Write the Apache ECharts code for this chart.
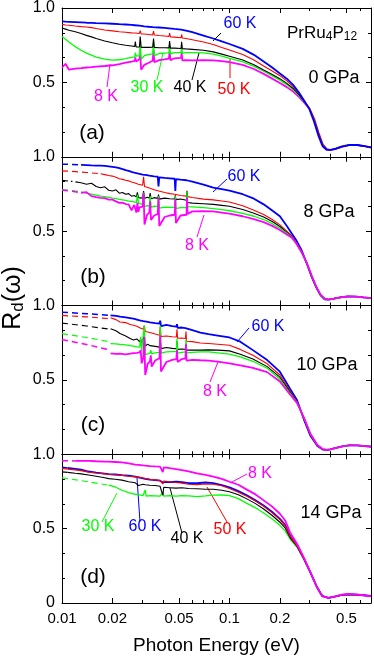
<!DOCTYPE html>
<html><head><meta charset="utf-8">
<script src="https://cdn.jsdelivr.net/npm/echarts@6/dist/echarts.min.js"></script>
<style>html,body{margin:0;padding:0;background:#fff}#c{width:374px;height:657px}</style>
</head><body><div id="c"></div>
<script>
// ---------- Panel (a) 0 GPa ----------
const E_a = [0.010,0.0105,0.011,0.012,0.013,0.014,0.015,0.016,0.018,0.020,0.022,0.024,0.026,0.0272,0.0274,0.0277,0.029,0.0293,0.0297,0.031,0.033,0.0348,0.0352,0.0356,0.038,0.041,0.0435,0.0439,0.0444,0.047,0.0514,0.0518,0.0523,0.055,0.06,0.07,0.08,0.09,0.10,0.12,0.14,0.16,0.18,0.20,0.22,0.24,0.26,0.28,0.30,0.32,0.34,0.36,0.38,0.40,0.43,0.47,0.52,0.58,0.64,0.70];
const a60 = [0.910,0.908,0.907,0.905,0.903,0.901,0.900,0.898,0.896,0.894,0.891,0.889,0.886,0.884,0.884,0.883,0.881,0.884,0.879,0.877,0.874,0.872,0.885,0.872,0.869,0.866,0.863,0.874,0.862,0.859,0.855,0.860,0.853,0.848,0.838,0.815,0.795,0.775,0.758,0.725,0.685,0.640,0.600,0.560,0.525,0.483,0.432,0.375,0.320,0.235,0.140,0.070,0.047,0.046,0.055,0.070,0.080,0.079,0.072,0.063];
const a50 = [0.890,0.886,0.884,0.879,0.875,0.872,0.868,0.862,0.852,0.846,0.840,0.837,0.833,0.832,0.842,0.830,0.829,0.848,0.826,0.825,0.822,0.819,0.845,0.818,0.815,0.812,0.808,0.832,0.806,0.804,0.800,0.822,0.798,0.795,0.787,0.772,0.755,0.735,0.718,0.688,0.650,0.610,0.577,0.545,0.510,0.472,0.427,0.375,0.327,0.250,0.155,0.080,0.050,0.045,0.053,0.068,0.079,0.078,0.071,0.062];
const a40 = [0.865,0.858,0.850,0.840,0.828,0.816,0.806,0.795,0.778,0.766,0.756,0.750,0.745,0.742,0.775,0.738,0.738,0.808,0.735,0.736,0.735,0.736,0.795,0.735,0.733,0.733,0.732,0.778,0.730,0.730,0.728,0.772,0.727,0.725,0.722,0.716,0.705,0.690,0.676,0.650,0.618,0.583,0.553,0.525,0.493,0.459,0.418,0.370,0.325,0.252,0.158,0.082,0.051,0.045,0.052,0.067,0.078,0.078,0.071,0.062];
const a30 = [0.808,0.790,0.772,0.740,0.716,0.697,0.683,0.670,0.656,0.650,0.652,0.660,0.668,0.672,0.700,0.676,0.680,0.760,0.655,0.680,0.688,0.692,0.765,0.680,0.694,0.697,0.698,0.750,0.690,0.700,0.700,0.745,0.695,0.700,0.700,0.698,0.690,0.676,0.662,0.638,0.608,0.575,0.544,0.515,0.485,0.452,0.413,0.368,0.326,0.255,0.160,0.083,0.052,0.045,0.052,0.067,0.078,0.078,0.071,0.062];
const a8  = [0.600,0.625,0.585,0.592,0.596,0.600,0.603,0.606,0.610,0.615,0.622,0.632,0.640,0.645,0.668,0.640,0.655,0.695,0.585,0.618,0.632,0.645,0.715,0.635,0.650,0.655,0.660,0.705,0.650,0.662,0.665,0.698,0.648,0.650,0.648,0.650,0.648,0.643,0.636,0.618,0.590,0.557,0.525,0.496,0.468,0.438,0.402,0.362,0.325,0.258,0.165,0.086,0.053,0.045,0.052,0.067,0.078,0.078,0.071,0.062];

// ---------- Panel (b) 8 GPa ----------
const E_b = [0.013,0.014,0.015,0.016,0.017,0.018,0.019,0.020,0.021,0.022,0.023,0.024,0.025,0.026,0.027,0.0278,0.0282,0.0286,0.029,0.0303,0.0307,0.0311,0.0322,0.0332,0.0336,0.034,0.0355,0.0373,0.0377,0.0381,0.041,0.044,0.0471,0.0475,0.0479,0.051,0.0554,0.0558,0.0562,0.06,0.07,0.08,0.09,0.10,0.12,0.14,0.16,0.18,0.20,0.22,0.235,0.25,0.27,0.29,0.31,0.33,0.35,0.37,0.39,0.42,0.46,0.51,0.57,0.63,0.70];
const b60 = [0.945,0.944,0.942,0.941,0.940,0.938,0.935,0.932,0.928,0.923,0.917,0.910,0.905,0.898,0.893,0.890,0.888,0.886,0.884,0.880,0.872,0.878,0.876,0.873,0.872,0.872,0.868,0.866,0.800,0.862,0.858,0.855,0.852,0.770,0.850,0.846,0.842,0.838,0.840,0.832,0.812,0.793,0.782,0.772,0.748,0.718,0.680,0.638,0.600,0.535,0.485,0.440,0.370,0.280,0.190,0.120,0.068,0.042,0.039,0.046,0.055,0.061,0.060,0.055,0.050];
const b50 = [null,null,null,null,0.886,0.880,0.874,0.870,0.862,0.852,0.848,0.842,0.838,0.830,0.825,0.820,0.825,0.815,0.812,0.808,0.865,0.800,0.795,0.790,0.800,0.785,0.778,0.772,0.785,0.768,0.760,0.752,0.748,0.760,0.745,0.740,0.735,0.760,0.732,0.726,0.715,0.710,0.703,0.696,0.670,0.640,0.612,0.578,0.542,0.500,0.470,0.425,0.362,0.282,0.195,0.122,0.070,0.044,0.040,0.046,0.055,0.061,0.060,0.055,0.050];
const b40 = [0.825,0.815,0.822,0.800,0.792,0.798,0.775,0.770,0.778,0.755,0.760,0.748,0.752,0.735,0.740,0.730,0.760,0.725,0.728,0.722,0.770,0.720,0.728,0.722,0.755,0.718,0.725,0.720,0.745,0.715,0.722,0.718,0.716,0.740,0.712,0.716,0.708,0.772,0.692,0.688,0.684,0.680,0.673,0.667,0.645,0.620,0.595,0.565,0.531,0.492,0.465,0.422,0.360,0.283,0.197,0.124,0.071,0.045,0.040,0.046,0.055,0.061,0.060,0.055,0.050];
const b30 = [0.764,0.755,0.748,0.742,0.736,0.732,0.727,0.722,0.718,0.713,0.710,0.706,0.702,0.700,0.696,0.692,0.745,0.688,0.685,0.680,0.760,0.665,0.672,0.668,0.735,0.660,0.668,0.665,0.735,0.655,0.662,0.660,0.660,0.735,0.652,0.658,0.658,0.765,0.665,0.663,0.658,0.651,0.644,0.637,0.620,0.600,0.578,0.550,0.519,0.485,0.462,0.420,0.358,0.284,0.198,0.125,0.072,0.045,0.040,0.046,0.055,0.061,0.060,0.055,0.050];
const b8  = [0.757,0.762,0.735,0.728,0.723,0.722,0.712,0.712,0.700,0.690,0.692,0.682,0.680,0.640,0.676,0.625,0.690,0.630,0.660,0.665,0.755,0.545,0.610,0.625,0.700,0.575,0.605,0.615,0.725,0.535,0.595,0.605,0.610,0.715,0.555,0.605,0.610,0.725,0.615,0.633,0.635,0.633,0.625,0.617,0.600,0.580,0.560,0.535,0.508,0.478,0.458,0.418,0.356,0.285,0.200,0.127,0.073,0.046,0.040,0.046,0.055,0.061,0.060,0.055,0.050];
const Eb_dash = [0.010,0.0115,0.013];
const Eb_dash50 = [0.010,0.012,0.014,0.017];
const b60d = [0.950,0.948,0.945];
const b50d = [0.905,0.900,0.894,0.886];
const b40d = [0.841,0.834,0.825];
const b30d = [0.780,0.772,0.764];
const b8d  = [0.776,0.768,0.757];

// ---------- Panel (c) 10 GPa ----------
const E_c = [0.0195,0.021,0.0222,0.024,0.0255,0.0267,0.028,0.0291,0.0295,0.0299,0.0306,0.031,0.0314,0.0325,0.0335,0.0339,0.0343,0.036,0.0382,0.0386,0.039,0.042,0.0455,0.0482,0.0486,0.049,0.052,0.0546,0.055,0.0554,0.06,0.067,0.075,0.085,0.10,0.116,0.138,0.168,0.20,0.23,0.253,0.278,0.305,0.335,0.36,0.38,0.40,0.44,0.48,0.52,0.58,0.64,0.70];
const c60 = [0.933,0.930,0.925,0.920,0.915,0.911,0.905,0.900,0.898,0.897,0.895,0.893,0.892,0.890,0.887,0.885,0.884,0.882,0.879,0.898,0.862,0.870,0.862,0.858,0.875,0.850,0.852,0.848,0.850,0.844,0.835,0.818,0.808,0.798,0.785,0.757,0.700,0.633,0.555,0.440,0.365,0.235,0.122,0.055,0.032,0.029,0.033,0.045,0.055,0.060,0.059,0.055,0.051];
const c50 = [0.918,0.905,0.889,0.885,0.872,0.867,0.860,0.850,0.845,0.845,0.840,0.865,0.825,0.822,0.818,0.812,0.815,0.808,0.800,0.858,0.792,0.795,0.790,0.788,0.840,0.780,0.782,0.778,0.825,0.760,0.757,0.748,0.745,0.740,0.733,0.705,0.665,0.608,0.533,0.425,0.355,0.240,0.128,0.058,0.033,0.029,0.033,0.045,0.055,0.060,0.059,0.055,0.051];
const c40 = [0.844,0.830,0.812,0.795,0.778,0.768,0.775,0.755,0.775,0.745,0.750,0.795,0.728,0.740,0.730,0.735,0.728,0.725,0.720,0.775,0.710,0.718,0.712,0.710,0.760,0.705,0.708,0.705,0.745,0.700,0.700,0.700,0.702,0.700,0.695,0.672,0.640,0.589,0.518,0.418,0.352,0.243,0.132,0.060,0.034,0.029,0.033,0.045,0.055,0.060,0.059,0.055,0.051];
const c30 = [0.744,0.742,0.738,0.735,0.730,0.727,0.722,0.720,0.790,0.700,0.705,0.865,0.670,0.675,0.680,0.700,0.675,0.682,0.685,0.865,0.680,0.688,0.690,0.690,0.778,0.680,0.685,0.688,0.770,0.682,0.685,0.688,0.688,0.682,0.673,0.655,0.625,0.578,0.504,0.410,0.348,0.245,0.134,0.061,0.034,0.029,0.033,0.045,0.055,0.060,0.059,0.055,0.051];
const c8  = [0.678,0.675,0.676,0.672,0.676,0.680,0.682,0.685,0.700,0.611,0.650,0.790,0.533,0.610,0.625,0.665,0.589,0.630,0.645,0.800,0.556,0.620,0.635,0.640,0.700,0.620,0.640,0.645,0.740,0.630,0.635,0.632,0.630,0.622,0.611,0.598,0.580,0.552,0.489,0.402,0.345,0.248,0.136,0.062,0.035,0.029,0.033,0.045,0.055,0.060,0.059,0.055,0.051];
const Ec_dash = [0.010,0.014,0.0195];
const c60d = [0.955,0.945,0.933];
const c50d = [0.933,0.924,0.911];
const c40d = [0.882,0.862,0.840];
const c30d = [0.811,0.785,0.755];
const c8d  = [0.771,0.738,0.700];

// ---------- Panel (d) 14 GPa ----------
const E_d = [0.0108,0.012,0.013,0.0144,0.016,0.018,0.019,0.0208,0.0228,0.025,0.0274,0.0286,0.029,0.0305,0.0314,0.0318,0.0335,0.036,0.0385,0.0395,0.040,0.0405,0.0414,0.044,0.048,0.052,0.057,0.064,0.072,0.08,0.09,0.10,0.113,0.127,0.143,0.16,0.18,0.20,0.215,0.23,0.254,0.278,0.305,0.334,0.358,0.39,0.43,0.47,0.51,0.57,0.63,0.70];
const d8  = [null,0.955,0.955,0.956,0.953,0.950,0.951,0.948,0.945,0.938,0.930,0.928,0.927,0.925,0.924,0.922,0.920,0.918,0.917,0.915,0.880,0.912,0.910,0.906,0.900,0.893,0.885,0.872,0.862,0.850,0.835,0.815,0.795,0.762,0.730,0.690,0.648,0.600,0.555,0.475,0.395,0.305,0.204,0.102,0.045,0.034,0.045,0.056,0.061,0.058,0.052,0.045];
const d60 = [0.908,0.902,0.896,0.884,0.876,0.870,0.866,0.864,0.860,0.856,0.849,0.845,0.842,0.838,0.835,0.833,0.830,0.826,0.822,0.818,0.810,0.816,0.814,0.812,0.815,0.812,0.806,0.805,0.810,0.806,0.792,0.778,0.752,0.724,0.690,0.656,0.612,0.566,0.525,0.452,0.385,0.300,0.202,0.104,0.047,0.034,0.044,0.054,0.058,0.056,0.052,0.047];
const d50 = [0.900,0.895,0.890,0.880,0.874,0.868,0.864,0.862,0.858,0.852,0.848,0.846,0.845,0.840,0.836,0.835,0.832,0.828,0.824,0.822,0.800,0.820,0.818,0.815,0.810,0.806,0.798,0.796,0.800,0.798,0.788,0.770,0.745,0.717,0.685,0.650,0.606,0.561,0.520,0.450,0.382,0.298,0.202,0.104,0.047,0.034,0.044,0.054,0.058,0.056,0.052,0.047];
const d40 = [0.878,0.872,0.868,0.860,0.852,0.842,0.836,0.832,0.826,0.815,0.808,0.790,0.803,0.798,0.795,0.793,0.792,0.790,0.785,0.782,0.724,0.778,0.772,0.775,0.772,0.775,0.770,0.768,0.765,0.765,0.758,0.748,0.728,0.700,0.668,0.632,0.588,0.543,0.505,0.440,0.378,0.296,0.203,0.105,0.048,0.034,0.044,0.054,0.058,0.056,0.052,0.047];
const d30 = [null,null,null,null,null,null,0.792,0.780,0.758,0.742,0.731,0.728,0.725,0.722,0.760,0.718,0.722,0.720,0.718,0.722,0.745,0.718,0.720,0.722,0.718,0.722,0.720,0.715,0.720,0.725,0.726,0.722,0.702,0.670,0.640,0.605,0.565,0.522,0.485,0.430,0.372,0.294,0.203,0.106,0.049,0.034,0.044,0.054,0.058,0.056,0.052,0.047];
const Ed_dash8 = [0.010,0.012];
const Ed_dashS = [0.010,0.0108];
const Ed_dash30 = [0.010,0.014,0.019];
const d8d  = [0.957,0.955];
const d60d = [0.912,0.908];
const d50d = [0.905,0.900];
const d40d = [0.882,0.878];
const d30d = [0.842,0.817,0.792];

// ---------- axis ticks ----------
const xMajorTicks = [0.01,0.02,0.05,0.1,0.2,0.5];
const xMinorTicks = [0.03,0.04,0.06,0.07,0.08,0.09,0.3,0.4,0.6];
const xLabels = [0.01,0.02,0.05,0.1,0.2,0.5];

const COL = {'8':'#ff00ff','30':'#00ff00','40':'#000000','50':'#ff0000','60':'#0000ff'};
const LW  = {'8':1.8,'30':1.3,'40':1.1,'50':1.1,'60':1.8};
const FONT = '"Liberation Sans", Arial, sans-serif';

const panels = [
  {E:E_a, s:{'8':a8,'30':a30,'40':a40,'50':a50,'60':a60}, dash:[], order:['8','30','40','50','60']},
  {E:E_b, s:{'8':b8,'30':b30,'40':b40,'50':b50,'60':b60},
   dash:[[Eb_dash,b60d,'60','d'],[Eb_dash50,b50d,'50','d'],[Eb_dash,b40d,'40','dd'],[Eb_dash,b30d,'30','d'],[Eb_dash,b8d,'8','d']],
   order:['60','50','40','30','8']},
  {E:E_c, s:{'8':c8,'30':c30,'40':c40,'50':c50,'60':c60},
   dash:[[Ec_dash,c60d,'60','d'],[Ec_dash,c50d,'50','d'],[Ec_dash,c40d,'40','d'],[Ec_dash,c30d,'30','d'],[Ec_dash,c8d,'8','d']],
   order:['60','50','40','30','8']},
  {E:E_d, s:{'8':d8,'30':d30,'40':d40,'50':d50,'60':d60},
   dash:[[Ed_dashS,d60d,'60','d'],[Ed_dashS,d50d,'50','d'],[Ed_dashS,d40d,'40','d'],[Ed_dash30,d30d,'30','d'],[Ed_dash8,d8d,'8','d']],
   order:['30','40','60','50','8']}
];

function pts(E, V){ const o=[]; for(let i=0;i<E.length;i++){ if(V[i]!=null) o.push([E[i],V[i]]); } return o; }

const PT = 8, PH = 148.75;
const grid=[], xAxis=[], yAxis=[], series=[];
panels.forEach((p, i) => {
  grid.push({left:62, right:3, top: PT + i*PH, height: PH, containLabel:false});
  const base = {type:'log', logBase:10, gridIndex:i, min:0.01, max:0.7, splitLine:{show:false}, minorTick:{show:false}};
  const line = {show:true, onZero:false, lineStyle:{color:'#000', width:1}};
  xAxis.push(Object.assign({}, base, {position:'bottom', axisLine:line,
    axisTick:{show:true, inside:true, length:5, customValues:xMajorTicks, lineStyle:{color:'#000'}},
    axisLabel:{show:i===3, customValues:xLabels, formatter:v=>String(+v.toPrecision(3)), fontSize:15, color:'#000', margin:8, fontFamily:FONT},
    name: i===3 ? 'Photon Energy (eV)' : '', nameLocation:'middle', nameGap:33,
    nameTextStyle:{fontSize:19, color:'#000', fontFamily:FONT}}));
  xAxis.push(Object.assign({}, base, {position:'bottom', axisLine:{show:false, onZero:false},
    axisTick:{show:true, inside:true, length:3, customValues:xMinorTicks, lineStyle:{color:'#000'}},
    axisLabel:{show:false}}));
  xAxis.push(Object.assign({}, base, {position:'top', axisLine:line,
    axisTick:{show:true, inside:true, length:5, customValues:xMajorTicks, lineStyle:{color:'#000'}},
    axisLabel:{show:false}}));
  xAxis.push(Object.assign({}, base, {position:'top', axisLine:{show:false, onZero:false},
    axisTick:{show:true, inside:true, length:3, customValues:xMinorTicks, lineStyle:{color:'#000'}},
    axisLabel:{show:false}}));
  const ybase = {type:'value', gridIndex:i, min:0, max:1, interval:0.5, splitLine:{show:false}, minorSplitLine:{show:false},
    axisLine:line, axisTick:{show:true, inside:true, length:5, lineStyle:{color:'#000'}},
    minorTick:{show:true, splitNumber:3, length:3, lineStyle:{color:'#000'}}};
  yAxis.push(Object.assign({}, ybase, {position:'left',
    axisLabel:{show:true, fontSize:16, color:'#000', margin:7, fontFamily:FONT,
      formatter: v => (v===0 ? (i===3 ? '0' : '') : v.toFixed(1))}}));
  yAxis.push(Object.assign({}, ybase, {position:'right', axisLabel:{show:false}}));

  p.dash.forEach(d => {
    series.push({type:'line', xAxisIndex:i*4, yAxisIndex:i*2, data:pts(d[0], d[1]), symbol:'none', silent:true,
      lineStyle:{color:COL[d[2]], width: d[2]==='8'||d[2]==='60' ? 1.5 : 1.2, type: d[3]==='dd' ? [6,3,1.5,3] : [6,4]}, z:2});
  });
  p.order.forEach((k, n) => {
    series.push({type:'line', xAxisIndex:i*4, yAxisIndex:i*2, data:pts(p.E, p.s[k]), symbol:'none', silent:true,
      lineStyle:{color:COL[k], width:LW[k]}, z:3+n});
  });
});

function T(text, x, y, fill, size){ return {type:'text', x:x, y:y, silent:true, style:{text:text, fill:fill, fontSize:size, fontFamily:FONT, align:'center', verticalAlign:'middle'}}; }
function L(x1,y1,x2,y2,stroke){ return {type:'line', silent:true, shape:{x1:x1,y1:y1,x2:x2,y2:y2}, style:{stroke:stroke, lineWidth:1}}; }

const graphic = [
  T('60 K', 240, 24, COL['60'], 16), L(213,41,221,33,'#000'),
  {type:'text', x:287, y:33, silent:true, style:{text:'{n|PrRu}{s|4}{n|P}{s|12}', fill:'#000', fontFamily:FONT, align:'left', verticalAlign:'middle',
     rich:{n:{fontSize:17, lineHeight:20, fontFamily:FONT, verticalAlign:'middle'}, s:{fontSize:12, lineHeight:12, fontFamily:FONT, verticalAlign:'bottom'}}}},
  T('0 GPa', 334, 78, '#000', 18),
  T('(a)', 92, 133, '#000', 21),
  T('8 K', 106, 97, COL['8'], 16), L(107,87,110,64,COL['8']),
  T('30 K', 147, 88, COL['30'], 16), L(157,80,163,53,COL['30']),
  T('40 K', 190, 88, COL['40'], 16), L(192,80,199,53,COL['40']),
  T('50 K', 234, 90, COL['50'], 16), L(230,78,230,59,COL['50']),
  T('60 K', 244, 177, COL['60'], 16), L(213,192,227,179,COL['60']),
  T('8 GPa', 329, 212, '#000', 18),
  T('8 K', 197, 246, COL['8'], 16), L(197,237,204,215,COL['8']),
  T('(b)', 93, 277, '#000', 21),
  T('60 K', 268, 327, COL['60'], 16), L(237,342,249,328,COL['60']),
  T('10 GPa', 327, 365, '#000', 18),
  T('8 K', 215, 392, COL['8'], 16), L(210,382,218,362,COL['8']),
  T('(c)', 93, 425, '#000', 21),
  T('8 K', 260, 474, COL['8'], 16), L(230,483,247,474,COL['8']),
  T('14 GPa', 331, 513, '#000', 18),
  T('30 K', 98, 527, COL['30'], 16), L(102,522,117,493,COL['30']),
  T('60 K', 145, 527, COL['60'], 16), L(140,522,137,478,COL['60']),
  T('40 K', 187, 539, COL['40'], 16), L(182,533,170,488,COL['40']),
  T('50 K', 230, 530, COL['50'], 16), L(227,522,207,487,COL['50']),
  T('(d)', 93, 577, '#000', 21),
  {type:'text', x:13, y:298, rotation:Math.PI/2, silent:true,
   style:{text:'{r|R}{s|d}{r|(ω)}', fill:'#000', fontFamily:FONT, align:'center', verticalAlign:'middle',
     rich:{r:{fontSize:25, lineHeight:28, fontFamily:FONT, verticalAlign:'middle'}, s:{fontSize:17, lineHeight:17, fontFamily:FONT, verticalAlign:'bottom'}}}}
];

const chart = echarts.init(document.getElementById('c'), null, {renderer:'canvas'});
chart.setOption({animation:false, backgroundColor:'#fff', textStyle:{fontFamily:FONT},
  grid, xAxis, yAxis, series, graphic});
</script></body></html>
